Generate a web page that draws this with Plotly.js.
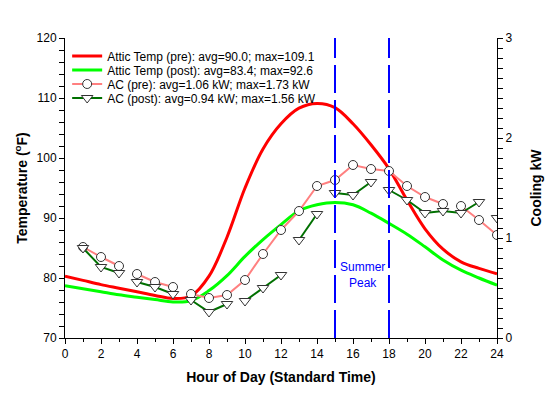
<!DOCTYPE html>
<html>
<head>
<meta charset="utf-8">
<script src="https://cdn.plot.ly/plotly-3.0.1.min.js"></script>
<style>html,body{margin:0;padding:0;background:#fff;}#chart{width:554px;height:396px;}</style>
</head>
<body>
<div id="chart"></div>
<script>
// ---- data ----
const hoursTemp = [0,1,2,3,4,5,6,7,8,9,10,11,12,13,14,15,16,17,18,19,20,21,22,23,24];
const atticPre  = [80.3,79.6,78.9,78.3,77.7,77.1,76.6,77.0,80.3,86.8,95.0,101.5,105.7,108.3,109.1,108.4,105.7,102.2,98.2,93.0,88.2,84.8,82.7,81.6,80.7];
const atticPost = [78.7,78.2,77.7,77.2,76.8,76.4,76.0,76.2,77.9,80.4,83.6,86.4,88.9,91.2,92.2,92.6,92.2,90.8,89.1,87.3,85.2,83.0,81.3,80.0,78.8];

const hoursAC = [1,2,3,4,5,6,7,8,9,10,11,12,13,14,15,16,17,18,19,20,21,22,23,24];
const acPre  = [0.91,0.81,0.72,0.64,0.56,0.51,0.44,0.40,0.43,0.58,0.84,1.08,1.27,1.52,1.58,1.73,1.69,1.67,1.52,1.41,1.34,1.32,1.18,1.03];
const acPost = [0.90,0.71,0.65,0.56,0.51,0.44,0.38,0.26,0.34,0.37,0.50,0.63,0.98,1.24,1.45,1.43,1.56,1.48,1.38,1.25,1.27,1.25,1.36,1.20];
// hours after which the measured line is interrupted
const acPreBreaks  = [3,6,21];
const acPostBreaks = [3,6,9,12,14,17,23];

const peakStart = 15, peakEnd = 18;
const xTicks = [0,2,4,6,8,10,12,14,16,18,20,22,24];

const names = [
  'Attic Temp (pre): avg=90.0; max=109.1',
  'Attic Temp (post): avg=83.4; max=92.6',
  'AC (pre): avg=1.06 kW; max=1.73 kW',
  'AC (post): avg=0.94 kW; max=1.56 kW'
];

function withBreaks(xs, ys, breaks){
  const X=[],Y=[];
  xs.forEach((x,i)=>{X.push(x);Y.push(ys[i]); if(breaks.includes(x)){X.push(x+0.5);Y.push(null);} });
  return {X,Y};
}
const preL = withBreaks(hoursAC, acPre, acPreBreaks);
const postL = withBreaks(hoursAC, acPost, acPostBreaks);

const FONT = 'Liberation Sans, Arial, sans-serif';

const traces = [
  {x:hoursTemp, y:atticPre, mode:'lines', line:{color:'#ff0000', width:3, shape:'spline'}, name:names[0], legend:'legend', yaxis:'y'},
  {x:hoursTemp, y:atticPost, mode:'lines', line:{color:'#00ff00', width:3, shape:'spline'}, name:names[1], legend:'legend2', yaxis:'y'},
  // AC lines (with gaps)
  {x:preL.X, y:preL.Y, mode:'lines', line:{color:'#ff8080', width:2}, yaxis:'y2', showlegend:false, connectgaps:false, hoverinfo:'skip'},
  {x:postL.X, y:postL.Y, mode:'lines', line:{color:'#007000', width:2}, yaxis:'y2', showlegend:false, connectgaps:false, hoverinfo:'skip'},
  // AC markers
  {x:hoursAC, y:acPre, mode:'markers', marker:{symbol:'circle', size:9, color:'#ffffff', line:{color:'#333333', width:1}}, yaxis:'y2', showlegend:false},
  {x:hoursAC, y:acPost, mode:'markers', marker:{symbol:'triangle-down', size:10, color:'#ffffff', line:{color:'#333333', width:1}}, yaxis:'y2', showlegend:false},
  // legend-only entries for AC
  {x:[null], y:[null], mode:'lines+markers', line:{color:'#ff8080', width:2}, marker:{symbol:'circle', size:9, color:'#ffffff', line:{color:'#333333', width:1}}, name:names[2], legend:'legend3', yaxis:'y2'},
  {x:[null], y:[null], mode:'lines+markers', line:{color:'#007000', width:2}, marker:{symbol:'triangle-down', size:10, color:'#ffffff', line:{color:'#333333', width:1}}, name:names[3], legend:'legend4', yaxis:'y2'}
];

const legBase = {x:0.005, xanchor:'left', yanchor:'middle', bgcolor:'rgba(0,0,0,0)', borderwidth:0, font:{family:FONT, size:12, color:'#000'}};
const axisFont = {family:FONT, size:12, color:'#000'};
const titleFont = {family:FONT, size:14, color:'#000', weight:'bold'};

const layout = {
  width:554, height:396,
  margin:{l:65, r:57, t:38, b:58},
  paper_bgcolor:'#fff', plot_bgcolor:'#fff',
  font:{family:FONT, size:12, color:'#000'},
  showlegend:true,
  legend: Object.assign({}, legBase, {y:0.94}),
  legend2: Object.assign({}, legBase, {y:0.8933}),
  legend3: Object.assign({}, legBase, {y:0.8467}),
  legend4: Object.assign({}, legBase, {y:0.80}),
  xaxis:{range:[0,24], tickvals:xTicks, ticks:'outside', ticklen:5, tickcolor:'#000', showline:true, linecolor:'#000', linewidth:1,
    showgrid:false, zeroline:false, tickfont:axisFont,
    minor:{dtick:1, ticks:'outside', ticklen:3, tickcolor:'#000'},
    title:{text:'<b>Hour of Day (Standard Time)</b>', font:titleFont, standoff:11}},
  yaxis:{range:[70,120], dtick:10, ticks:'outside', ticklen:5, tickcolor:'#000', showline:true, linecolor:'#000', linewidth:1,
    showgrid:false, zeroline:false, tickfont:axisFont,
    minor:{dtick:2, ticks:'outside', ticklen:5, tickcolor:'#000'},
    title:{text:'<b>Temperature (<sup>o</sup>F)</b>', font:titleFont, standoff:5}},
  yaxis2:{range:[0,3], dtick:1, overlaying:'y', side:'right', ticks:'outside', ticklen:5, tickcolor:'#000', showline:true, linecolor:'#000', linewidth:1,
    showgrid:false, zeroline:false, tickfont:axisFont,
    minor:{dtick:0.1, ticks:'outside', ticklen:5, tickcolor:'#000'},
    title:{text:'<b>Cooling kW</b>', font:titleFont, standoff:19}},
  shapes:[peakStart, peakEnd].map(v=>({type:'line', xref:'x', yref:'paper', x0:v, x1:v, y0:0, y1:1, line:{color:'#0000ff', width:2, dash:'28px,7px'}})),
  annotations:[{x:(peakStart+peakEnd)/2, y:80.5, xref:'x', yref:'y', text:'Summer<br>Peak', showarrow:false, font:{family:FONT, size:12, color:'#0000ff'}}]
};

Plotly.newPlot('chart', traces, layout, {displayModeBar:false, staticPlot:true});
</script>
</body>
</html>
